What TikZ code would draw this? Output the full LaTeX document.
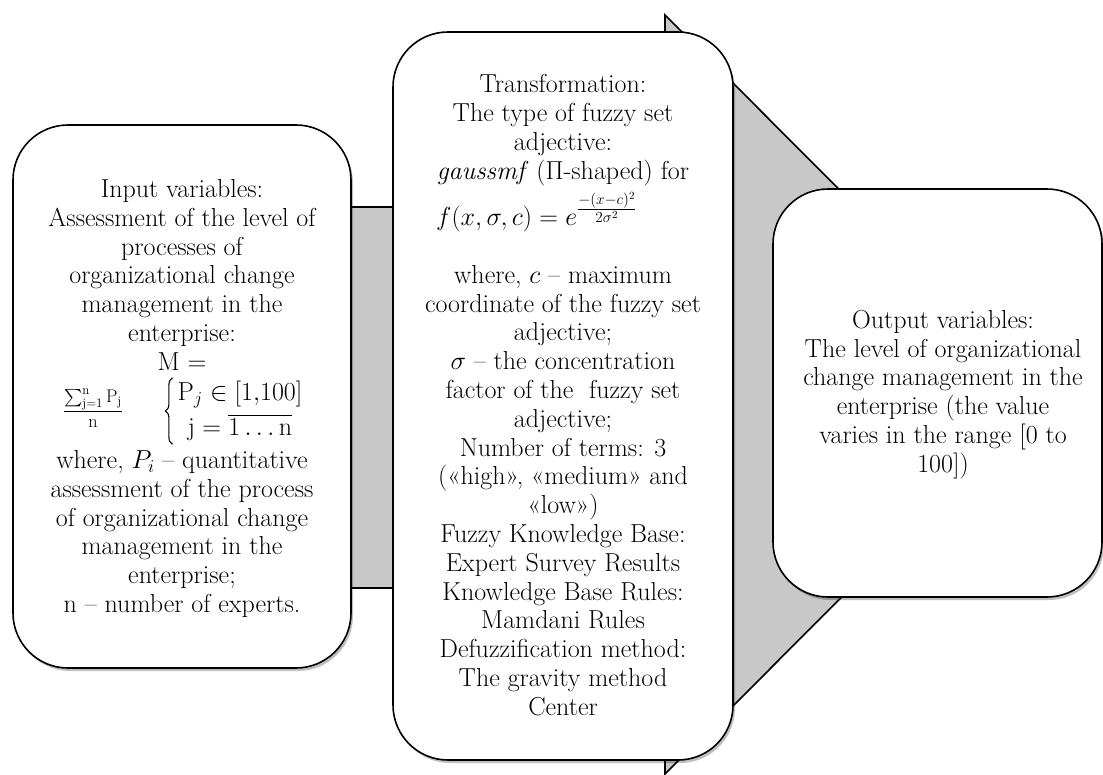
\RequirePackage{fix-cm}
\documentclass[tikz,border=0pt]{standalone}
\usepackage{amsmath}
\usepackage{fontspec}
\usetikzlibrary{shadows,decorations.pathreplacing}
\definecolor{arrowgray}{RGB}{200,200,200}
\tikzset{
  panel/.style={draw=black, line width=1.6pt, fill=white, rounded corners=55pt,
    inner sep=0pt, drop shadow={shadow xshift=2pt, shadow yshift=-3pt, fill=black, opacity=0.25}},
  txt/.style={font=\fontsize{26}{28.8}\selectfont, align=center, inner sep=0pt},
  casebrace/.style={decorate, decoration={brace, amplitude=7pt}, line width=1.1pt},
}
\begin{document}
\begin{tikzpicture}[x=1pt, y=-1pt]
\useasboundingbox (0,0) rectangle (1103,774);
\fill[white] (0,0) rectangle (1103,774);
% big arrow
\draw[fill=arrowgray, line width=1.6pt, line join=miter]
  (200,207) -- (665,207) -- (665,15) -- (1044,394.5) -- (665,774) -- (665,588) -- (200,588) -- cycle;
% panels
\node[panel, minimum width=338pt, minimum height=543pt] (inbox) at (182,396.5) {};
\node[panel, minimum width=340pt, minimum height=728pt] (trbox) at (563,396) {};
\node[panel, minimum width=329pt, minimum height=408pt] (outbox) at (937.5,393) {};
% input text
\node[txt] (intop) at (182,263) {Input variables:\\Assessment of the level of\\processes of\\organizational change\\management in the\\enterprise:};
\node[txt] (inM) at (182,362) {M =};
\node[txt] (infrac) at (93,408) {$\frac{\sum_{\mathrm{j=1}}^{\mathrm{n}}\mathrm{P_j}}{\mathrm{n}}$};
\node[txt] (incases) at (240,411) {$\mathrm{P}_j \in [1{,}100]$\\[5pt]$\mathrm{j} = \overline{1\ldots\mathrm{n}}$};
\draw[casebrace] ([xshift=-5pt,yshift=-3pt]incases.south west) -- ([xshift=-5pt,yshift=3pt]incases.north west);
\node[txt] (inbot) at (182,534) {where, $P_i$ -- quantitative\\assessment of the process\\of organizational change\\management in the\\enterprise;\\n -- number of experts.};
% transformation text
\node[txt] (trtop) at (563,130) {Transformation:\\The type of fuzzy set\\adjective:\\\textit{gaussmf} ($\Pi$-shaped) for};
\node[txt, anchor=west] (trform) at (436,212) {$f(x,\sigma,c) = e^{\mbox{\fontsize{22}{22}\selectfont$\frac{-(x-c)^2}{2\sigma^2}$}}$};
\node[txt] (trbot) at (563,490.5) {where, $c$ -- maximum\\coordinate of the fuzzy set\\adjective;\\$\sigma$ -- the concentration\\factor of the \ fuzzy set\\adjective;\\Number of terms: 3\\(«high», «medium» and\\«low»)\\Fuzzy Knowledge Base:\\Expert Survey Results\\Knowledge Base Rules:\\Mamdani Rules\\Defuzzification method:\\The gravity method\\Center};
% output text
\node[txt] (outtxt) at (943,394.5) {Output variables:\\The level of organizational\\change management in the\\enterprise (the value\\varies in the range [0 to\\100])};
\end{tikzpicture}
\end{document}
